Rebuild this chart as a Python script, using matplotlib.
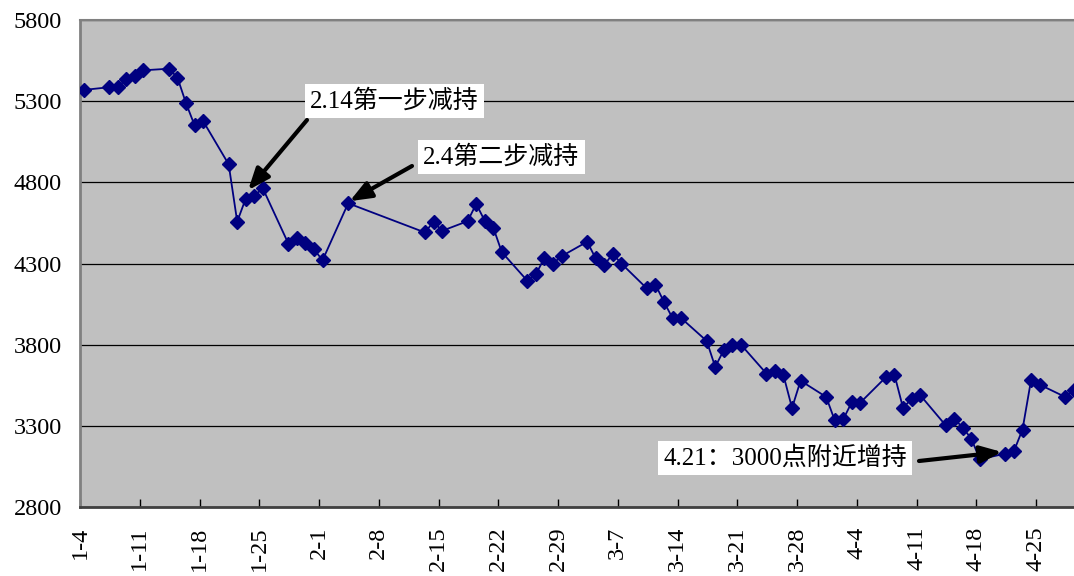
import matplotlib
matplotlib.use("Agg")
import matplotlib.pyplot as plt
import pandas as pd

plt.rcParams["font.family"] = ["Liberation Serif", "Noto Sans CJK SC"]

# daily closes (2008)
dates = [
    "2008-01-04", "2008-01-07", "2008-01-08", "2008-01-09", "2008-01-10", "2008-01-11",
    "2008-01-14", "2008-01-15", "2008-01-16", "2008-01-17", "2008-01-18",
    "2008-01-21", "2008-01-22", "2008-01-23", "2008-01-24", "2008-01-25",
    "2008-01-28", "2008-01-29", "2008-01-30", "2008-01-31", "2008-02-01",
    "2008-02-04", "2008-02-13", "2008-02-14", "2008-02-15",
    "2008-02-18", "2008-02-19", "2008-02-20", "2008-02-21", "2008-02-22",
    "2008-02-25", "2008-02-26", "2008-02-27", "2008-02-28", "2008-02-29",
    "2008-03-03", "2008-03-04", "2008-03-05", "2008-03-06", "2008-03-07",
    "2008-03-10", "2008-03-11", "2008-03-12", "2008-03-13", "2008-03-14",
    "2008-03-17", "2008-03-18", "2008-03-19", "2008-03-20", "2008-03-21",
    "2008-03-24", "2008-03-25", "2008-03-26", "2008-03-27", "2008-03-28",
    "2008-03-31", "2008-04-01", "2008-04-02", "2008-04-03", "2008-04-04",
    "2008-04-07", "2008-04-08", "2008-04-09", "2008-04-10", "2008-04-11",
    "2008-04-14", "2008-04-15", "2008-04-16", "2008-04-17", "2008-04-18",
    "2008-04-21", "2008-04-22", "2008-04-23", "2008-04-24", "2008-04-25",
    "2008-04-28", "2008-04-29",
]
closes = [
    5369, 5386, 5386, 5435, 5457, 5490,
    5500, 5445, 5288, 5152, 5178,
    4911, 4558, 4700, 4718, 4763,
    4422, 4455, 4428, 4387, 4320,
    4671, 4491, 4558, 4501,
    4561, 4667, 4563, 4521, 4370,
    4193, 4234, 4336, 4300, 4345,
    4434, 4331, 4291, 4359, 4300,
    4146, 4170, 4063, 3964, 3964,
    3823, 3663, 3766, 3801, 3801,
    3622, 3638, 3611, 3410, 3578,
    3478, 3334, 3340, 3446, 3443,
    3600, 3615, 3411, 3465, 3490,
    3303, 3344, 3289, 3221, 3094,
    3129, 3145, 3277, 3581, 3554,
    3478, 3523,
]

tick_dates = [
    "2008-01-04", "2008-01-11", "2008-01-18", "2008-01-25", "2008-02-01",
    "2008-02-08", "2008-02-15", "2008-02-22", "2008-02-29", "2008-03-07",
    "2008-03-14", "2008-03-21", "2008-03-28", "2008-04-04", "2008-04-11",
    "2008-04-18", "2008-04-25",
]
tick_labels = [
    "1-4", "1-11", "1-18", "1-25", "2-1", "2-8", "2-15", "2-22", "2-29",
    "3-7", "3-14", "3-21", "3-28", "4-4", "4-11", "4-18", "4-25",
]
y_ticks = [2800, 3300, 3800, 4300, 4800, 5300, 5800]

x = pd.to_datetime(dates) + pd.Timedelta(hours=10)
start = pd.Timestamp("2008-01-04")

fig = plt.figure(figsize=(10.74, 5.76), dpi=100)
ax = fig.add_axes([80 / 1074, 69 / 576, 994 / 1074, 487 / 576])
ax.set_facecolor("#C0C0C0")

ax.plot(x, closes, color="#000080", lw=1.3, marker="D", ms=7,
        mec="#000080", mfc="#000080", zorder=3)

ax.set_xlim(start, start + pd.Timedelta(days=116.45))
ax.set_ylim(2800, 5800)
ax.set_yticks(y_ticks)
ax.set_xticks(pd.to_datetime(tick_dates))
ax.set_xticklabels(tick_labels, rotation=90)

ax.grid(axis="y", color="black", lw=0.9)
ax.set_axisbelow(True)
ax.tick_params(axis="x", direction="in", length=6, width=1, pad=14,
               labelsize=17.5, colors="black")
ax.tick_params(axis="y", length=0, pad=13, labelsize=17.5)

ax.spines["right"].set_visible(False)
ax.spines["left"].set_color("#808080")
ax.spines["left"].set_linewidth(2)
ax.spines["top"].set_color("#808080")
ax.spines["top"].set_linewidth(1.5)
ax.spines["bottom"].set_color("#404040")
ax.spines["bottom"].set_linewidth(2)

arrow = dict(arrowstyle="-|>,head_length=0.65,head_width=0.26", color="black",
             lw=3, mutation_scale=20, shrinkA=0, shrinkB=0)
box = dict(boxstyle="square,pad=0.22", fc="white", ec="none")
txt = dict(fontsize=18, ha="left", va="center", zorder=5, bbox=box)

ax.annotate("", xy=(start + pd.Timedelta(days=19.7), 4752), xycoords="data",
            xytext=(307, 456), textcoords="figure pixels", arrowprops=arrow, zorder=4)
ax.annotate("", xy=(start + pd.Timedelta(days=31.6), 4684), xycoords="data",
            xytext=(412, 410), textcoords="figure pixels", arrowprops=arrow, zorder=4)
ax.annotate("", xy=(start + pd.Timedelta(days=108.0), 3139), xycoords="data",
            xytext=(919, 115), textcoords="figure pixels", arrowprops=arrow, zorder=4)

ax.annotate("2.14第一步减持", xy=(310, 475), xycoords="figure pixels", **txt)
ax.annotate("2.4第二步减持", xy=(423, 419), xycoords="figure pixels", **txt)
ax.annotate("4.21：3000点附近增持", xy=(663, 118), xycoords="figure pixels", **txt)

fig.savefig("out.png", dpi=100)
